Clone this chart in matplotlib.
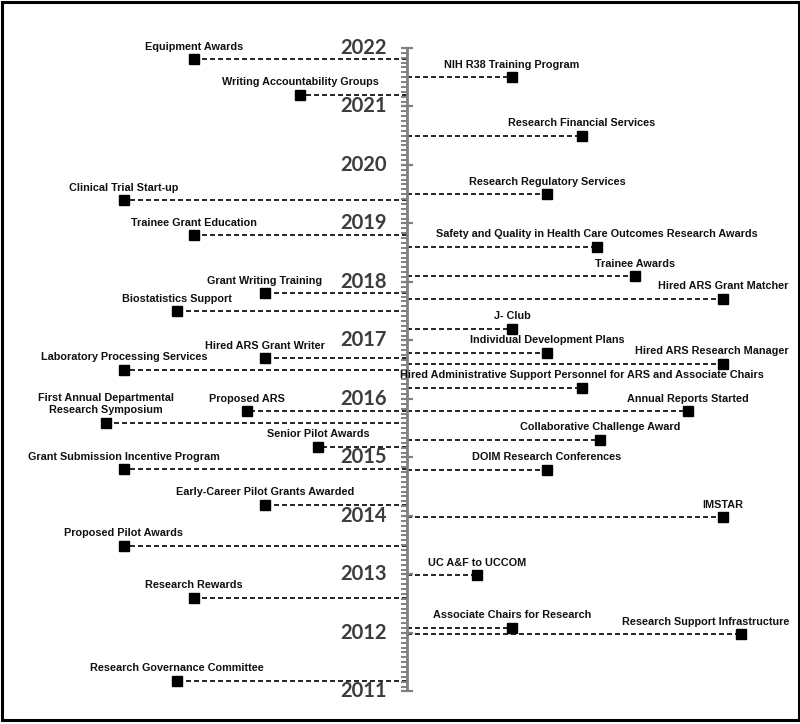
import matplotlib.pyplot as plt
from matplotlib.patches import Rectangle

# timeline years
years = list(range(2011, 2023))

# events left of the axis: name, date (decimal year), stem length
left_events = ["Equipment Awards", "Writing Accountability Groups", "Clinical Trial Start-up",
               "Trainee Grant Education", "Grant Writing Training", "Biostatistics Support",
               "Hired ARS Grant Writer", "Laboratory Processing Services", "Proposed ARS",
               "First Annual Departmental\nResearch Symposium", "Senior Pilot Awards",
               "Grant Submission Incentive Program", "Early-Career Pilot Grants Awarded",
               "Proposed Pilot Awards", "Research Rewards", "Research Governance Committee"]
left_dates = [2021.81, 2021.20, 2019.40, 2018.80, 2017.81, 2017.50, 2016.70, 2016.50,
              2015.79, 2015.59, 2015.18, 2014.80, 2014.19, 2013.49, 2012.60, 2011.18]
left_reach = [213, 107, 283, 213, 142, 230, 142, 283, 160, 301, 89, 283, 142, 283, 213, 230]

# events right of the axis
right_events = ["NIH R38 Training Program", "Research Financial Services",
                "Research Regulatory Services",
                "Safety and Quality in Health Care Outcomes Research Awards", "Trainee Awards",
                "Hired ARS Grant Matcher", "J- Club", "Individual Development Plans",
                "Hired ARS Research Manager",
                "Hired Administrative Support Personnel for ARS and Associate Chairs",
                "Annual Reports Started", "Collaborative Challenge Award",
                "DOIM Research Conferences", "IMSTAR", "UC A&F to UCCOM",
                "Associate Chairs for Research", "Research Support Infrastructure"]
right_dates = [2021.50, 2020.50, 2019.50, 2018.60, 2018.10, 2017.71, 2017.20, 2016.79,
               2016.60, 2016.19, 2015.79, 2015.30, 2014.79, 2013.98, 2012.99, 2012.09, 2011.98]
right_reach = [105, 175, 140, 190, 228, 316, 105, 140, 316, 175, 281, 193, 140, 316, 70, 105, 334]

fig = plt.figure(figsize=(8, 7.24), dpi=100)
ax = fig.add_axes([0, 0, 1, 1])
ax.set_xlim(-407, 393)
ax.set_ylim(2010.444, 2022.82)
ax.axis('off')

axis_grey = '#808080'
# main line + ticks
ax.plot([0, 0], [years[0], years[-1]], color=axis_grey, lw=2, solid_capstyle='butt', zorder=3)
ax.hlines(years, -6, 6, color=axis_grey, lw=1.6, zorder=3)
minor = [y + m / 12 for y in years[:-1] for m in range(1, 12)]
ax.hlines(minor, -6, 0, color=axis_grey, lw=1.4, zorder=3)
for y in years:
    ax.text(-20, y, str(y), ha='right', va='center', fontsize=14.5, fontweight='bold',
            color='#3c3c3c', family='Lato')

labels = []
def draw_events(names, dates, reach, sign):
    for n, d, r in zip(names, dates, reach):
        ax.plot([0, sign * r], [d, d], color='black', lw=1.2, dashes=(3, 1.8), zorder=2)
        ax.plot(sign * r, d, marker='s', ms=7.2, color='black', zorder=4)
        t = ax.annotate(n, (sign * r, d), xytext=(0, 9.5), textcoords='offset pixels',
                        ha='center', va='baseline', fontsize=7.85, fontweight='bold',
                        family='Liberation Sans', color='#111111', linespacing=1.25)
        labels.append(t)

draw_events(left_events, left_dates, left_reach, -1)
draw_events(right_events, right_dates, right_reach, 1)

# keep long labels inside the frame
fig.canvas.draw()
r = fig.canvas.get_renderer()
for t in labels:
    bb = t.get_window_extent(r)
    if bb.x1 > 789:
        t.xyann = (789 - bb.x1, 9.5)

fig.patches.append(Rectangle((1.5 / 800, 4.5 / 724), 797 / 800, 718 / 724,
                             transform=fig.transFigure, fill=False, ec='black', lw=2.2))

fig.savefig('out.png', dpi=100)
